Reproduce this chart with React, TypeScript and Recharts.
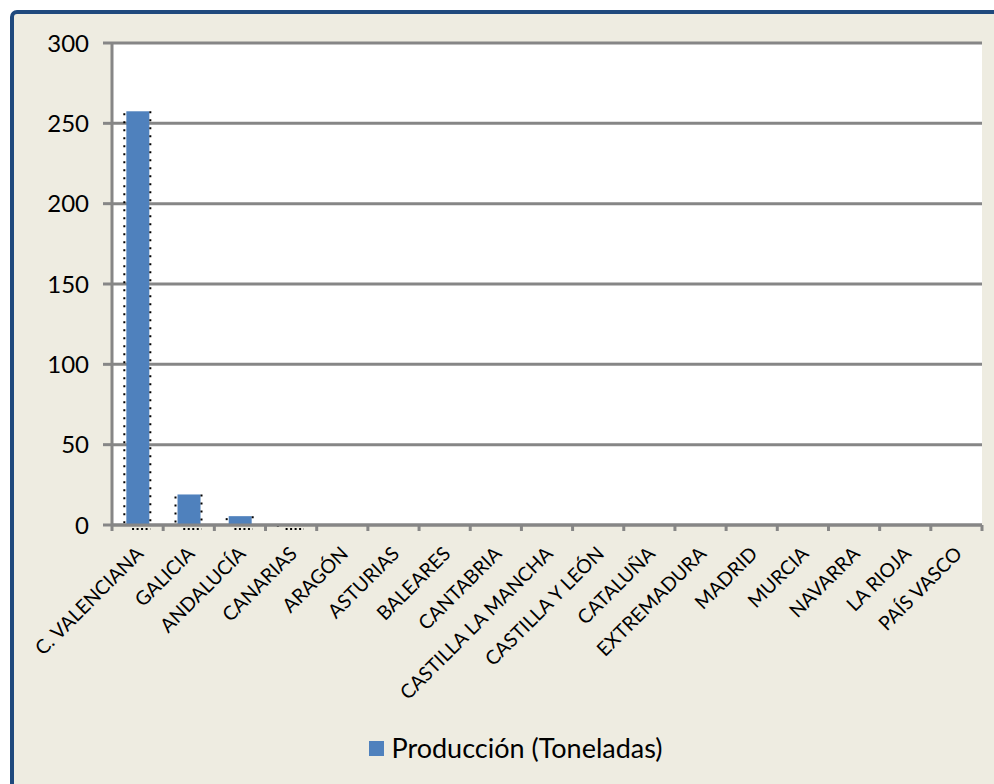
import React from "react";
import { BarChart, Bar, XAxis, YAxis, CartesianGrid, Legend } from "recharts";

const regions = [
  "C. VALENCIANA", "GALICIA", "ANDALUCÍA", "CANARIAS", "ARAGÓN", "ASTURIAS", "BALEARES",
  "CANTABRIA", "CASTILLA LA MANCHA", "CASTILLA Y LEÓN", "CATALUÑA", "EXTREMADURA",
  "MADRID", "MURCIA", "NAVARRA", "LA RIOJA", "PAÍS VASCO",
];
const production = [257.5, 19, 5.5, 0.2, 0, 0, 0, 0, 0, 0, 0, 0, 0, 0, 0, 0, 0];
const yTicks = [0, 50, 100, 150, 200, 250, 300];
const seriesName = "Producción (Toneladas)";

const data = regions.map((region, i) => ({ region, value: production[i] }));

const FONT = "Lato, 'Open Sans', sans-serif";
const GRID = "#868686";
const BLUE = "#4F81BD";

const DottedBar = (props: any) => {
  const { x, y, width, height, fill, value } = props;
  if (!value || value <= 0) return null;
  const base = y + height;
  return (
    <g>
      <rect x={x} y={y} width={width} height={Math.max(height, 0)} fill={fill} />
      <line x1={x - 2} y1={y + 2} x2={x - 2} y2={base} stroke="#000" strokeWidth={2} strokeDasharray="2 6" />
      <line x1={x + width + 1} y1={y} x2={x + width + 1} y2={base} stroke="#000" strokeWidth={2} strokeDasharray="2 6" />
      <line x1={x + width * 0.25} y1={base + 4} x2={x + width + 1} y2={base + 4} stroke="#000" strokeWidth={2} strokeDasharray="2 2.5" />
    </g>
  );
};

const RegionTick = (props: any) => {
  const { x, y, payload, index } = props;
  const half = payload && payload.offset ? payload.offset : 25.6;
  const ax = x + 7;
  const ay = y + 30;
  return (
    <g>
      <line x1={x - half} y1={y} x2={x - half} y2={y + 6} stroke={GRID} strokeWidth={3} />
      {index === regions.length - 1 && (
        <line x1={x + half} y1={y} x2={x + half} y2={y + 6} stroke={GRID} strokeWidth={3} />
      )}
      <text
        x={ax}
        y={ay}
        transform={`rotate(-45, ${ax}, ${ay})`}
        textAnchor="end"
        fontSize={19.5}
        fontFamily={FONT}
        fill="#000"
      >
        {payload.value}
      </text>
    </g>
  );
};

const LegendContent = () => (
  <div style={{ height: 84, display: "flex", alignItems: "center", justifyContent: "center", paddingLeft: 50, paddingTop: 10, boxSizing: "border-box" }}>
    <span style={{ display: "inline-block", width: 15, height: 15, background: BLUE, marginRight: 7, marginTop: 3 }} />
    <span style={{ fontFamily: FONT, fontSize: 27, color: "#000" }}>{seriesName}</span>
  </div>
);

export default function App() {
  return (
    <div style={{ position: "fixed", left: 0, top: 0, width: 994, height: 784, background: "#fff", overflow: "hidden" }}>
      <div
        style={{
          position: "absolute",
          left: 10,
          top: 10,
          width: 1000,
          height: 800,
          background: "#EEECE1",
          border: "4px solid #1F497D",
          borderRadius: 7,
        }}
      />
      <div style={{ position: "absolute", left: 0, top: 0 }}>
        <BarChart width={994} height={784} data={data} margin={{ top: 43, right: 12, left: 0, bottom: 0 }} barCategoryGap="28%">
          <CartesianGrid vertical={false} stroke={GRID} strokeWidth={3} fill="#fff" />
          <XAxis
            dataKey="region"
            interval={0}
            height={175}
            tickSize={0}
            tickMargin={0}
            tickLine={false}
            axisLine={{ stroke: GRID, strokeWidth: 3 }}
            tick={<RegionTick />}
          />
          <YAxis
            width={112}
            domain={[0, 300]}
            ticks={yTicks}
            tickSize={9}
            tickMargin={14}
            tickLine={{ stroke: GRID, strokeWidth: 3 }}
            axisLine={{ stroke: GRID, strokeWidth: 3 }}
            tick={{ fill: "#000", fontSize: 24, fontFamily: FONT }}
          />
          <Legend verticalAlign="bottom" content={<LegendContent />} />
          <Bar dataKey="value" name={seriesName} fill={BLUE} shape={<DottedBar />} isAnimationActive={false} />
        </BarChart>
      </div>
    </div>
  );
}
